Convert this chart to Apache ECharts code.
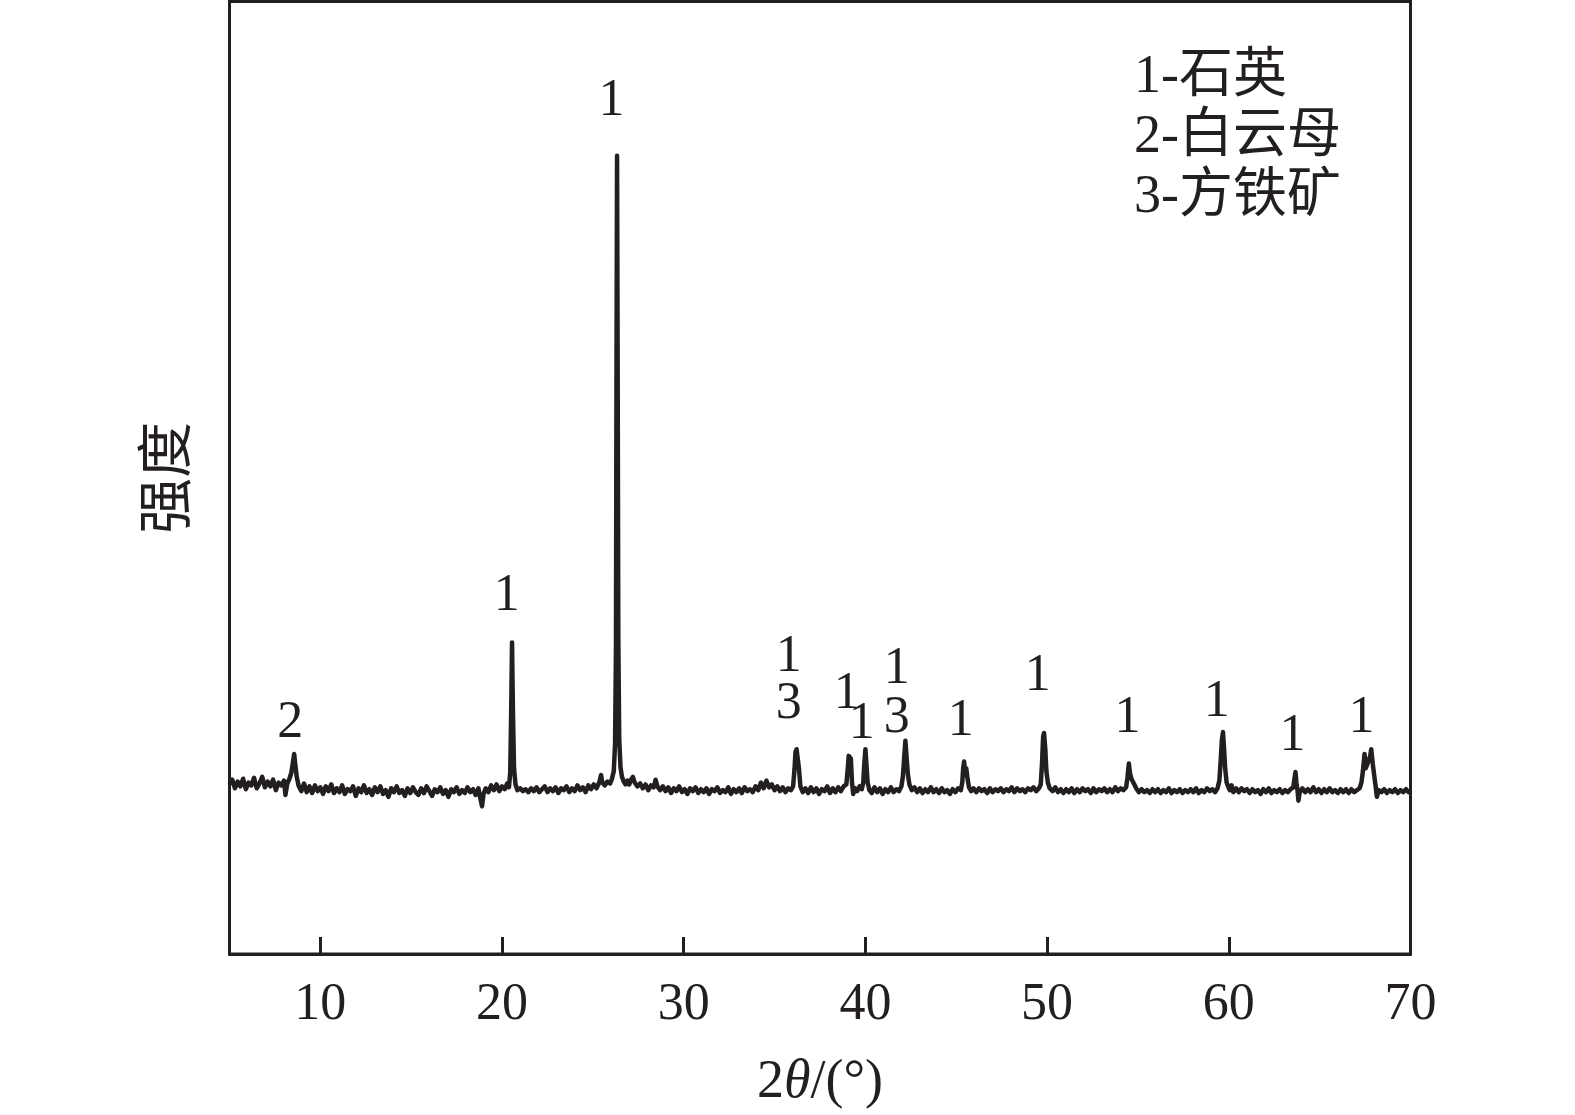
<!DOCTYPE html>
<html>
<head>
<meta charset="utf-8">
<script src="https://cdn.jsdelivr.net/npm/echarts@6/dist/echarts.min.js"></script>
<style>
html,body{margin:0;padding:0;background:#fff;}
#chart{width:1575px;height:1115px;}
</style>
</head>
<body>
<div id="chart"></div>
<script>
// ---- data: [2θ (°), intensity (a.u.)] ----
const scanA = [[5.0,178],[5.15,183],[5.3,174],[5.45,181],[5.6,176],[5.75,184],[5.9,173],[6.05,180],[6.2,177],[6.35,185],[6.5,174],[6.65,179],[6.8,186],[6.95,175],[7.1,181],[7.25,176],[7.4,183],[7.55,172],[7.7,180],[7.85,177],[8.0,182],[8.08,167],[8.18,179],[8.3,184],[8.4,190],[8.48,200],[8.56,210],[8.62,199],[8.7,186],[8.8,177],[8.95,171],[9.1,179],[9.25,170],[9.4,176],[9.55,169],[9.7,177],[9.85,171],[10.0,175],[10.15,168],[10.3,176],[10.45,171],[10.6,178],[10.75,169],[10.9,174],[11.05,170],[11.2,177],[11.35,168],[11.5,173],[11.65,171],[11.8,176],[11.95,166],[12.1,174],[12.25,170],[12.4,177],[12.55,169],[12.7,173],[12.85,167],[13.0,175],[13.15,170],[13.3,176],[13.45,168],[13.6,172],[13.75,165],[13.9,174],[14.05,170],[14.2,176],[14.35,169],[14.5,172],[14.65,166],[14.8,174],[14.95,169],[15.1,175],[15.25,170],[15.4,167],[15.55,174],[15.7,169],[15.85,176],[16.0,171],[16.15,166],[16.3,173],[16.45,170],[16.6,175],[16.75,168],[16.9,172],[17.05,165],[17.2,173],[17.35,170],[17.5,175],[17.65,168],[17.8,172],[17.95,169],[18.1,175],[18.25,170],[18.4,173],[18.55,167],[18.7,174],[18.82,162],[18.9,155],[18.98,168],[19.1,174],[19.25,170],[19.4,177],[19.55,172],[19.7,178],[19.85,171],[20.0,176],[20.15,173],[20.28,179],[20.38,175],[20.45,190],[20.5,250],[20.55,327],[20.6,255],[20.66,195],[20.74,178],[20.85,172]];
const scanB = [[21.0,174],[21.15,171],[21.3,173],[21.45,170],[21.6,174],[21.75,171],[21.9,175],[22.05,170],[22.2,173],[22.35,176],[22.5,170],[22.65,174],[22.8,171],[22.95,175],[23.1,169],[23.25,174],[23.4,172],[23.55,176],[23.7,170],[23.85,174],[24.0,171],[24.15,177],[24.3,172],[24.45,175],[24.6,170],[24.75,177],[24.9,173],[25.05,178],[25.2,174],[25.35,180],[25.45,188],[25.52,180],[25.65,177],[25.8,181],[25.95,179],[26.05,184],[26.15,192],[26.22,220],[26.27,320],[26.3,620],[26.33,838],[26.36,640],[26.4,330],[26.45,225],[26.52,196],[26.6,186],[26.7,181],[26.8,178],[26.9,182],[27.0,178],[27.1,183],[27.2,186],[27.3,180],[27.45,176],[27.6,179],[27.75,174],[27.9,178],[28.05,172],[28.2,177],[28.35,175],[28.45,183],[28.55,176],[28.7,172],[28.85,176],[29.0,171],[29.15,175],[29.3,169],[29.45,174],[29.6,171],[29.75,176],[29.9,170],[30.05,173],[30.2,168],[30.35,174],[30.5,171],[30.65,175],[30.8,169],[30.95,173],[31.1,170],[31.25,174],[31.4,168],[31.55,173],[31.7,171],[31.85,175],[32.0,169],[32.15,172],[32.3,170],[32.45,175],[32.6,168],[32.75,173],[32.9,170],[33.05,174],[33.2,169],[33.35,175],[33.5,171],[33.65,173],[33.8,170],[33.95,176],[34.1,172],[34.25,180],[34.4,174],[34.55,182],[34.7,175],[34.85,178],[35.0,172],[35.15,176],[35.3,171],[35.45,175],[35.6,170],[35.75,174],[35.9,172]];
const scanC = [[36.02,176],[36.1,195],[36.15,212],[36.21,215],[36.28,213],[36.34,195],[36.42,176],[36.55,170],[36.7,174],[36.85,169],[37.0,175],[37.15,170],[37.3,174],[37.45,168],[37.6,173],[37.75,171],[37.9,176],[38.05,169],[38.2,174],[38.35,170],[38.5,175],[38.65,171],[38.8,176],[38.95,178],[39.03,195],[39.08,208],[39.14,210],[39.2,205],[39.26,180],[39.33,168],[39.42,174],[39.55,171],[39.68,176],[39.8,173],[39.88,180],[39.94,200],[40.0,215],[40.06,198],[40.12,180],[40.22,172],[40.35,169],[40.5,175],[40.65,170],[40.8,174],[40.95,168],[41.1,173],[41.25,170],[41.4,175],[41.55,170],[41.7,173],[41.85,171],[41.98,176],[42.06,186],[42.13,205],[42.2,224],[42.27,205],[42.34,188],[42.42,178],[42.55,172],[42.7,175],[42.85,170],[43.0,174],[43.15,169],[43.3,173],[43.45,170],[43.6,175],[43.75,170],[43.9,173],[44.05,169],[44.2,174],[44.35,170],[44.5,172],[44.65,168],[44.8,173],[44.95,170],[45.1,174],[45.25,172],[45.33,180],[45.38,195],[45.43,202],[45.49,192],[45.55,195],[45.62,184],[45.7,175],[45.82,171],[45.95,174],[46.1,170],[46.25,174],[46.4,171],[46.55,173],[46.7,169],[46.85,174],[47.0,170],[47.15,173],[47.3,171],[47.45,174],[47.6,170],[47.75,173],[47.9,171],[48.05,175],[48.2,170],[48.35,174],[48.5,171],[48.65,173],[48.8,170],[48.95,174],[49.1,172],[49.25,175],[49.4,171],[49.55,174],[49.65,178],[49.72,200],[49.78,228],[49.83,232],[49.9,215],[49.96,192],[50.04,180],[50.14,174],[50.3,171],[50.45,175],[50.6,170],[50.75,173],[50.9,169],[51.05,173],[51.2,170],[51.35,174],[51.5,169],[51.65,173],[51.8,170],[51.95,174],[52.1,171],[52.25,173],[52.4,169],[52.55,174],[52.7,170],[52.85,173],[53.0,171],[53.15,174],[53.3,170],[53.45,173],[53.6,170],[53.75,175],[53.9,171],[54.05,174],[54.2,172],[54.35,175],[54.42,185],[54.5,200],[54.56,190],[54.64,184],[54.72,182],[54.8,178],[54.9,174],[55.05,170],[55.2,173],[55.35,170],[55.5,172],[55.65,169],[55.8,173],[55.95,170],[56.1,173],[56.25,169],[56.4,172],[56.55,170],[56.7,174],[56.85,169],[57.0,172],[57.15,170],[57.3,173],[57.45,169],[57.6,172],[57.75,170],[57.9,173],[58.05,170],[58.2,174],[58.35,169],[58.5,172],[58.65,170],[58.8,174],[58.95,171],[59.1,173],[59.25,170],[59.38,174],[59.48,182],[59.56,205],[59.62,225],[59.68,233],[59.74,215],[59.8,195],[59.88,180],[59.96,176],[60.05,172],[60.15,177],[60.25,170],[60.4,174],[60.55,170],[60.7,174],[60.85,171],[61.0,173],[61.15,169],[61.3,173],[61.45,170],[61.6,172],[61.75,168],[61.9,173],[62.05,170],[62.2,174],[62.35,169],[62.5,172],[62.65,170],[62.8,173],[62.95,169],[63.1,172],[63.25,170],[63.4,173],[63.55,175],[63.62,185],[63.67,191],[63.72,180],[63.78,172],[63.83,161],[63.9,170],[64.05,174],[64.2,170],[64.35,173],[64.5,170],[64.65,175],[64.8,170],[64.95,173],[65.1,169],[65.25,173],[65.4,170],[65.55,174],[65.7,170],[65.85,172],[66.0,169],[66.15,173],[66.3,170],[66.45,173],[66.6,169],[66.75,173],[66.9,170],[67.05,172],[67.2,174],[67.3,180],[67.38,192],[67.47,210],[67.53,195],[67.6,198],[67.7,200],[67.78,208],[67.84,215],[67.92,200],[68.0,188],[68.08,176],[68.15,165],[68.25,172],[68.4,170],[68.55,173],[68.7,169],[68.85,172],[69.0,170],[69.15,173],[69.3,169],[69.45,172],[69.6,170],[69.75,173],[69.9,170],[70.0,171]];

// peak marker labels: text, 2θ, height (data units)
const peakLabelTexts  = ['2', '1', '1', '1', '3', '1', '1', '1', '3', '1', '1', '1', '1', '1', '1'];
const peakLabelAngles = [8.34, 20.26, 26.03, 35.78, 35.78, 38.97, 39.8, 41.72, 41.72, 45.25, 49.48, 54.43, 59.33, 63.51, 67.31];
const peakLabelHeights= [242, 376, 895, 311, 262, 273, 241, 299, 247, 244, 292, 247, 264, 229, 247];

const xTicks = [10, 20, 30, 40, 50, 60, 70];
const phaseLegend = ['1-石英', '2-白云母', '3-方铁矿'];

const INK = '#231f20';
const SERIF = '"Liberation Serif", "Times New Roman", "Noto Sans CJK SC", serif';

const scan = scanA.concat(scanB, scanC);
const labelData = peakLabelTexts.map((t, i) => [peakLabelAngles[i], peakLabelHeights[i], t]);

const chart = echarts.init(document.getElementById('chart'), null, {renderer: 'canvas'});
chart.setOption({
  animation: false,
  backgroundColor: '#fff',
  grid: {
    left: 229.5, right: 164.5, top: 1.5, bottom: 160,
    show: true, borderColor: INK, borderWidth: 3, backgroundColor: 'transparent'
  },
  xAxis: {
    type: 'value', min: 5, max: 70,
    name: '{n|2}{i|θ}{n|/(°)}',
    nameLocation: 'middle', nameGap: 102,
    nameTextStyle: {
      rich: {
        n: {fontFamily: SERIF, fontSize: 54, color: INK},
        i: {fontFamily: SERIF, fontSize: 54, color: INK, fontStyle: 'italic'}
      }
    },
    axisLine: {show: true, onZero: false, lineStyle: {color: INK, width: 3}},
    axisTick: {show: true, inside: true, length: 17, customValues: xTicks, lineStyle: {color: INK, width: 3}},
    axisLabel: {show: true, customValues: xTicks, margin: 25, fontFamily: SERIF, fontSize: 52, color: INK},
    splitLine: {show: false}
  },
  yAxis: {
    type: 'value', min: 0, max: 1000,
    name: '强度', nameLocation: 'middle', nameGap: 38, nameRotate: 90,
    nameTextStyle: {fontFamily: '"Noto Sans CJK SC", sans-serif', fontSize: 56, color: INK},
    axisLine: {show: true, lineStyle: {color: INK, width: 3}},
    axisTick: {show: false},
    axisLabel: {show: false},
    splitLine: {show: false}
  },
  graphic: [{
    type: 'text', left: 1134, top: 48, silent: true,
    style: {
      text: phaseLegend.join('\n'),
      font: '54px ' + SERIF,
      lineHeight: 60,
      fill: INK
    }
  }],
  series: [{
    type: 'line',
    data: scan,
    showSymbol: false,
    symbol: 'none',
    lineStyle: {color: INK, width: 4.5, join: 'round'},
    silent: true,
    z: 3
  }, {
    type: 'custom',
    data: labelData,
    silent: true,
    z: 4,
    renderItem: function (params, api) {
      const pt = api.coord([api.value(0), api.value(1)]);
      return {
        type: 'text',
        x: pt[0], y: pt[1],
        style: {
          text: labelData[params.dataIndex][2],
          font: '52px ' + SERIF,
          fill: INK,
          align: 'center',
          verticalAlign: 'middle'
        }
      };
    }
  }]
});
</script>
</body>
</html>
